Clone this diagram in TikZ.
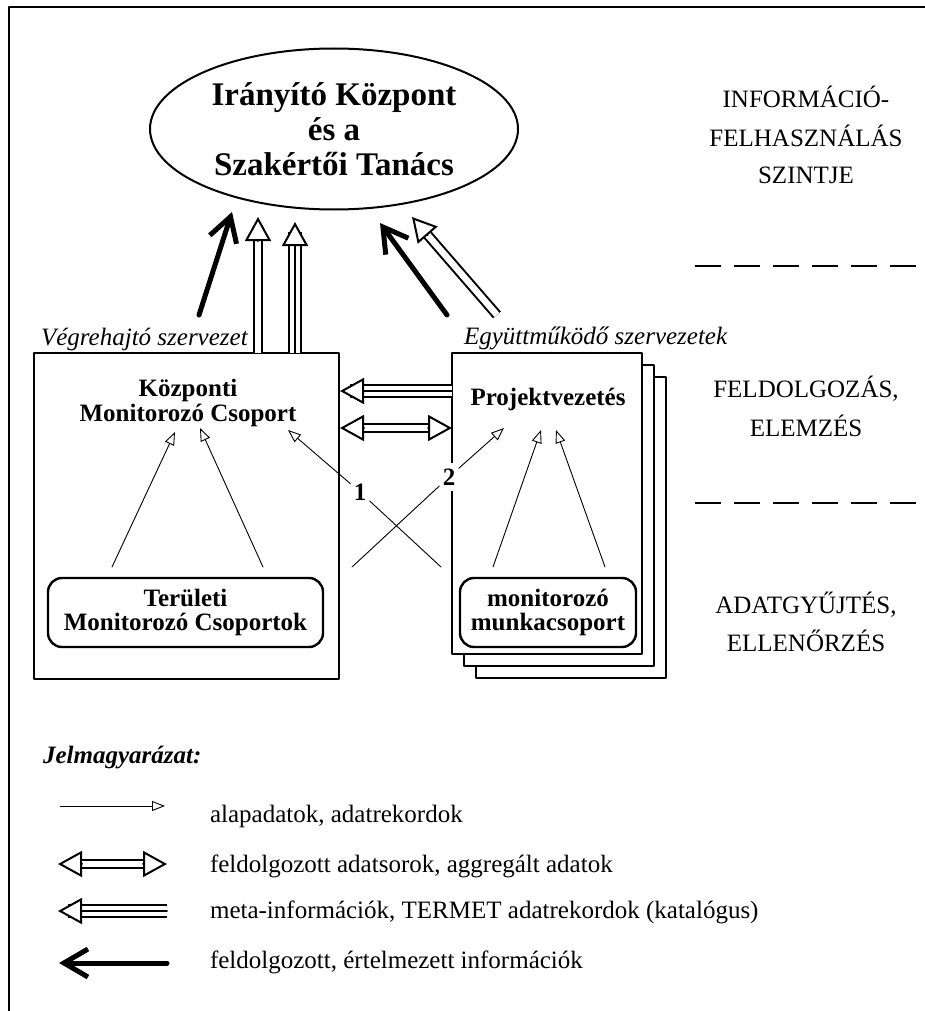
\documentclass[tikz,border=0pt]{standalone}
\usepackage{fontspec}
\setmainfont{Liberation Serif}
\usetikzlibrary{arrows.meta,shapes.geometric,calc}

% üres fejű (fehérrel kitöltött) nyílhegy: #1 honnan, #2 hova
\newcommand{\fejnyil}[2]{\draw[fej] ($(#2)!12pt!(#1)$) -- (#2);}

\begin{document}
\begin{tikzpicture}[x=0.5pt,y=-0.5pt,line cap=round,line join=round,
    font=\fontsize{12.5}{15}\selectfont,
    doboz/.style={draw,line width=1.4pt,fill=white,inner sep=0pt},
    lap/.style={draw,line width=0.6pt,fill=white,minimum width=95pt,minimum height=150.5pt},
    kerek/.style={draw,line width=1.2pt,rounded corners=7pt,align=center,inner sep=0pt,
      minimum height=34.5pt,font=\fontsize{12.5}{12}\selectfont\bfseries},
    cim/.style={align=center,font=\fontsize{12.5}{12.5}\selectfont\bfseries},
    szint/.style={anchor=base,font=\fontsize{12.5}{15}\selectfont},
    szam/.style={fill=white,inner xsep=1.5pt,inner ysep=3pt,font=\fontsize{12.5}{15}\selectfont\bfseries},
    alap/.style={line width=0.45pt,-{Triangle[open,length=6.5pt,width=5pt]}},
    vekony/.style={line width=0.45pt},
    info/.style={line width=2.5pt,-{Straight Barb[length=12pt,width=14pt]}},
    ketvonal/.style={double,double distance=3.2pt,line width=1pt,line cap=butt},
    haromvonal/.style={double,double distance=5pt,line width=1pt,line cap=butt},
    fej/.style={line width=1pt,-{Triangle[length=12pt,width=13pt,fill=white]}}]
  \useasboundingbox (0,0) rectangle (925,1011);

  % keret (csak bal és felső él)
  \draw[line width=1pt] (9,1011) -- (9,7) -- (925,7);

  % Irányító Központ
  \node[ellipse,draw,line width=1pt,minimum width=184pt,minimum height=80.5pt,inner sep=0pt,
    align=center,font=\fontsize{16.5}{17.5}\selectfont\bfseries] (kozpont) at (334,129)
    {Irányító Központ\\és a\\Szakértői Tanács};

  % szintek a jobb oldalon
  \foreach \t/\y [count=\i] in {INFORMÁCIÓ-/107,FELHASZNÁLÁS/147,SZINTJE/184,
      {FELDOLGOZÁS,}/397,ELEMZÉS/436,{ADATGYŰJTÉS,}/613,ELLENŐRZÉS/651}
    \node[szint] (szint\i) at (806,\y) {\t};
  \draw[line width=0.6pt,line cap=butt,dash pattern=on 13pt off 6.5pt] (695,266) -- (918,266);
  \draw[line width=0.6pt,line cap=butt,dash pattern=on 13pt off 6.5pt] (695,503) -- (918,503);

  % dobozok
  \node[doboz,minimum width=152.5pt,minimum height=163pt] (kbox) at (186.5,516) {};
  \node[lap] (lap3) at (571,527.5) {};
  \node[lap] (lap2) at (559,515.5) {};
  \node[lap,doboz] (pbox) at (547,503.5) {};

  \node[cim] (kmcs) at (188,403) {Központi\\Monitorozó Csoport};
  \node[cim] (proj) at (548,399) {Projektvezetés};
  \node[kerek,minimum width=137.5pt] (tmcs) at (185.5,612.5) {Területi\\Monitorozó Csoportok};
  \node[kerek,minimum width=88pt] (munka) at (548,612.5) {monitorozó\\munkacsoport};

  \node[anchor=base west,font=\fontsize{12.5}{15}\selectfont\itshape] (vegre) at (34,345)
    {Végrehajtó szervezet};
  \node[anchor=base west,font=\fontsize{12.5}{15}\selectfont\itshape] (egyutt) at (457,344)
    {Együttműködő szervezetek};

  % nyilak a központ felé
  \coordinate (a0) at (199,315); \coordinate (a1) at (232,212);
  \coordinate (b0) at (258,353); \coordinate (b1) at (258,217);
  \coordinate (c0) at (295,353); \coordinate (c1) at (295,222);
  \coordinate (d0) at (447,315); \coordinate (d1) at (380,223);
  \coordinate (e0) at (497,315); \coordinate (e1) at (412,217);
  \draw[info] (a0) -- (a1);
  \draw[ketvonal,shorten >=5pt] (b0) -- (b1); \fejnyil{b0}{b1}
  \draw[haromvonal,shorten >=5pt] (c0) -- (c1);
  \draw[line width=1pt,shorten >=5pt] (c0) -- (c1); \fejnyil{c0}{c1}
  \draw[info] (d0) -- (d1);
  \draw[ketvonal,shorten >=5pt] (e0) -- (e1); \fejnyil{e0}{e1}

  % a két doboz között
  \coordinate (m0) at (452,391); \coordinate (m1) at (340,391);
  \coordinate (f0) at (340,428); \coordinate (f1) at (452,428);
  \draw[haromvonal,shorten >=5pt] (m0) -- (m1);
  \draw[line width=1pt,shorten >=5pt] (m0) -- (m1); \fejnyil{m0}{m1}
  \draw[ketvonal,shorten >=5pt,shorten <=5pt] (f0) -- (f1);
  \fejnyil{f0}{f1} \fejnyil{f1}{f0}

  % alapadatok
  \coordinate (t1) at (112,567); \coordinate (t1v) at (175,432);
  \coordinate (t2) at (263,567); \coordinate (t2v) at (200,428);
  \coordinate (p1) at (493,567); \coordinate (p1v) at (541,430);
  \coordinate (p2) at (605,567); \coordinate (p2v) at (556,430);
  \draw[alap] (t1) -- (t1v);
  \draw[alap] (t2) -- (t2v);
  \draw[alap] (p1) -- (p1v);
  \draw[alap] (p2) -- (p2v);

  % keresztbe menő adatok (1, 2)
  \node[szam] (egy) at (360,492) {1};
  \node[szam] (ketto) at (449,477) {2};
  \coordinate (x1) at (441,567); \coordinate (x1v) at (288,430);
  \coordinate (x2) at (352,567); \coordinate (x2v) at (504,428);
  \draw[vekony] (x1) -- (egy); \draw[alap] (egy) -- (x1v);
  \draw[vekony] (x2) -- (ketto); \draw[alap] (ketto) -- (x2v);

  % jelmagyarázat
  \node[anchor=base west,font=\fontsize{12.5}{15}\selectfont\bfseries\itshape] (jelm) at (36,763)
    {Jelmagyarázat:};
  \foreach \y/\t [count=\i] in {822/{alapadatok, adatrekordok},
      872/{feldolgozott adatsorok, aggregált adatok},
      918/{meta-információk, TERMET adatrekordok (katalógus)},
      968/{feldolgozott, értelmezett információk}}
    \node[anchor=base west] (jel\i) at (203,\y) {\t};

  \coordinate (j1a) at (60,806);  \coordinate (j1b) at (165,806);
  \coordinate (j2a) at (58,864);  \coordinate (j2b) at (167,864);
  \coordinate (j3a) at (167,911); \coordinate (j3b) at (58,911);
  \coordinate (j4a) at (167,963); \coordinate (j4b) at (59,963);
  \draw[alap] (j1a) -- (j1b);
  \draw[ketvonal,shorten >=5pt,shorten <=5pt] (j2a) -- (j2b);
  \fejnyil{j2a}{j2b} \fejnyil{j2b}{j2a}
  \draw[haromvonal,shorten >=5pt] (j3a) -- (j3b);
  \draw[line width=1pt,shorten >=5pt] (j3a) -- (j3b); \fejnyil{j3a}{j3b}
  \draw[info] (j4a) -- (j4b);
\end{tikzpicture}
\end{document}
